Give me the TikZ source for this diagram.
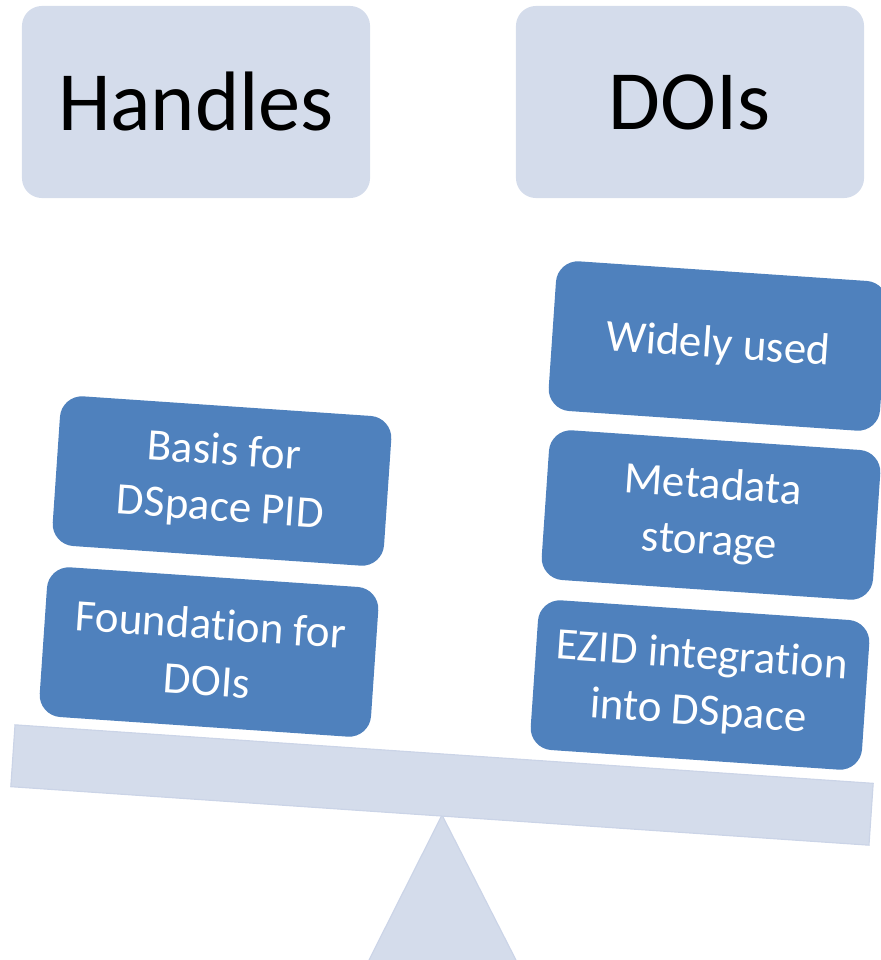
\documentclass[tikz,border=0pt]{standalone}
\usepackage{fontspec}
\setmainfont{Carlito}[Ligatures=NoCommon, RawFeature={-liga;-clig;-calt;-dlig}]
\definecolor{paleblue}{HTML}{D4DCEB}
\definecolor{paleedge}{HTML}{CBD4E7}
\definecolor{boxblue}{HTML}{4F81BD}
\newcommand{\ti}{t\kern0pt i}
\tikzset{
  head/.style={fill=paleblue, rounded corners=0.5cm, minimum width=8.7cm,
    minimum height=4.8cm, font=\fontsize{60}{70}\selectfont},
  item/.style={fill=boxblue, rounded corners=0.55cm, minimum width=8.3cm,
    minimum height=3.75cm, rotate=-3.9, align=center, text=white,
    font=\fontsize{32}{40}\selectfont},
}

\begin{document}
\begin{tikzpicture}[x=0.025cm, y=-0.025cm]
\useasboundingbox (0,0) rectangle (881,960);

% Headings
\node[head] (handles) at (196,102) {Handles};
\node[head] (dois) at (690,102) {DOIs};

% Pivot
\filldraw[fill=paleblue, draw=paleedge, line width=0.8pt] (442,815) -- (517,962) -- (368,962) -- cycle;

% Beam
\node[fill=paleblue, draw=paleedge, line width=0.8pt, minimum width=21.5cm,
  minimum height=1.55cm, rotate=-3.9] (beam) at (442,785) {};

% Left side
\node[item] (basis) at (222,481) {Basis for\\DSpace PID};
\node[item] (foundation) at (209,652) {Founda\ti on for\\DOIs};

% Right side
\node[item] (widely) at (718,346) {Widely used};
\node[item] (metadata) at (711,515) {Metadata\\storage};
\node[item] (ezid) at (700,685) {EZID integra\ti on\\into DSpace};

\end{tikzpicture}
\end{document}
